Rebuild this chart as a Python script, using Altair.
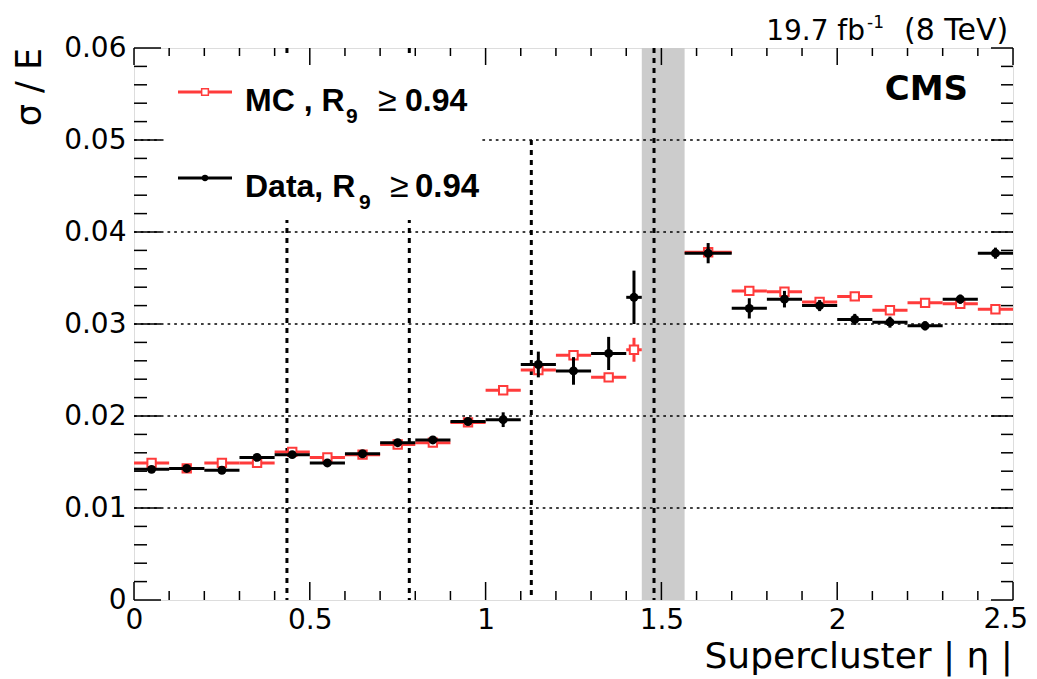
import altair as alt
import pandas as pd

# ---------------- data ----------------
bin_lo = [0.0, 0.1, 0.2, 0.3, 0.4, 0.5, 0.6, 0.7, 0.8, 0.9, 1.0, 1.1, 1.2, 1.3, 1.4,
          1.566, 1.7, 1.8, 1.9, 2.0, 2.1, 2.2, 2.3, 2.4]
bin_hi = [0.1, 0.2, 0.3, 0.4, 0.5, 0.6, 0.7, 0.8, 0.9, 1.0, 1.1, 1.2, 1.3, 1.4, 1.4442,
          1.7, 1.8, 1.9, 2.0, 2.1, 2.2, 2.3, 2.4, 2.5]
bin_center = [0.05, 0.15, 0.25, 0.35, 0.45, 0.55, 0.65, 0.75, 0.85, 0.95, 1.05, 1.15, 1.25, 1.35, 1.422,
              1.633, 1.75, 1.85, 1.95, 2.05, 2.15, 2.25, 2.35, 2.45]
data_val = [0.0142, 0.0143, 0.0141, 0.0155, 0.0158, 0.0149, 0.0159, 0.0171, 0.0174, 0.0194, 0.0196, 0.0256,
            0.0249, 0.0268, 0.0329, 0.0377, 0.0317, 0.0327, 0.0320, 0.0305, 0.0302, 0.0298, 0.0327, 0.0377]
data_err = [0.0002, 0.0002, 0.0002, 0.0002, 0.0002, 0.0002, 0.0002, 0.0002, 0.0003, 0.0004, 0.0008, 0.0014,
            0.0015, 0.0018, 0.0029, 0.0011, 0.0011, 0.0009, 0.0006, 0.0006, 0.0006, 0.0005, 0.0005, 0.0006]
mc_val = [0.0149, 0.0143, 0.0149, 0.0149, 0.0161, 0.0155, 0.0158, 0.0169, 0.0171, 0.0193, 0.0228, 0.0250,
          0.0266, 0.0242, 0.0272, 0.0378, 0.0336, 0.0335, 0.0324, 0.0330, 0.0315, 0.0323, 0.0322, 0.0316]
mc_err = [0.0001, 0.0001, 0.0001, 0.0001, 0.0001, 0.0001, 0.0001, 0.0001, 0.0001, 0.0001, 0.0001, 0.0002,
          0.0004, 0.0004, 0.0013, 0.0003, 0.0002, 0.0002, 0.0002, 0.0002, 0.0002, 0.0002, 0.0002, 0.0002]

gap_lo, gap_hi = [1.4442], [1.566]
module_x = [0.435, 0.783, 1.13, 1.479]
module_top = [0.06, 0.06, 0.05, 0.06]
grid_y = [0.01, 0.02, 0.03, 0.04, 0.05]
x_major = [0.0, 0.5, 1.0, 1.5, 2.0, 2.5]
x_label_vals = [0.0, 0.5, 1.0, 1.5, 2.0]
x_last_label = "2.5"
x_minor = [round(i * 0.1, 2) for i in range(26) if i % 5 != 0]
y_major = [0.0, 0.01, 0.02, 0.03, 0.04, 0.05, 0.06]
y_minor = [round(i * 0.002, 4) for i in range(31) if i % 5 != 0]

W, H = 879, 552
RED = "#ff3b3b"
FONT = "DejaVu Sans"
LFONT = "Liberation Sans"

df = pd.DataFrame({"lo": bin_lo, "hi": bin_hi, "c": bin_center,
                   "d": data_val, "de": data_err, "m": mc_val, "me": mc_err})
df["d_lo"] = df["d"] - df["de"]
df["d_hi"] = df["d"] + df["de"]
df["m_lo"] = df["m"] - df["me"]
df["m_hi"] = df["m"] + df["me"]

xs = alt.Scale(domain=[0, 2.5], nice=False, zero=False)
ys = alt.Scale(domain=[0, 0.06], nice=False, zero=False)

axis_common = dict(ticks=False, domain=False, grid=False, labelFont=FONT, labelFontSize=28,
                   labelColor="black", labelFlush=False, labelOverlap=False, title=None, format="~g")
x_axis = alt.Axis(values=x_label_vals, labelPadding=6, labelBaseline="top", **axis_common)
y_axis = alt.Axis(values=y_major, labelPadding=8, **axis_common)


def X(f):
    return alt.X(f, type="quantitative", scale=xs, axis=x_axis)


def Y(f):
    return alt.Y(f, type="quantitative", scale=ys, axis=y_axis)


one = pd.DataFrame({"a": [0]})

band = alt.Chart(pd.DataFrame({"lo": gap_lo, "hi": gap_hi})).mark_rect(color="#cccccc").encode(
    x=X("lo"), x2="hi:Q", y=alt.value(0), y2=alt.value(H))

grid = alt.Chart(pd.DataFrame({"y": grid_y})).mark_rule(color="black", strokeWidth=1.6, strokeDash=[2.7, 4]).encode(
    y=Y("y"), x=alt.value(0), x2=alt.value(W))

modules = alt.Chart(pd.DataFrame({"x": module_x, "top": module_top, "bot": [0] * 4})).mark_rule(
    color="black", strokeWidth=3, strokeDash=[5, 5]).encode(x=X("x"), y=Y("top"), y2="bot:Q")

legbox = alt.Chart(one).mark_rect(fill="white").encode(
    x=alt.value(31), x2=alt.value(346), y=alt.value(10), y2=alt.value(172))

base = alt.Chart(df)
mc_h = base.mark_rule(color=RED, strokeWidth=3).encode(x=X("lo"), x2="hi:Q", y=Y("m"))
mc_v = base.mark_rule(color=RED, strokeWidth=3).encode(x=X("c"), y=Y("m_lo"), y2="m_hi:Q")
mc_p = base.mark_point(shape="square", filled=False, fill="white", fillOpacity=1, color=RED,
                       strokeWidth=2, size=70, opacity=1).encode(x=X("c"), y=Y("m"))
d_h = base.mark_rule(color="black", strokeWidth=3).encode(x=X("lo"), x2="hi:Q", y=Y("d"))
d_v = base.mark_rule(color="black", strokeWidth=3).encode(x=X("c"), y=Y("d_lo"), y2="d_hi:Q")
d_p = base.mark_circle(color="black", size=80, opacity=1).encode(x=X("c"), y=Y("d"))


def xticks(vals, length_b, length_t):
    src = alt.Chart(pd.DataFrame({"v": vals}))
    b = src.mark_rule(color="black", strokeWidth=1.5).encode(
        x=X("v"), y=alt.value(H), y2=alt.value(H - length_b))
    t = src.mark_rule(color="black", strokeWidth=1.5).encode(
        x=X("v"), y=alt.value(0), y2=alt.value(length_t))
    return [b, t]


def yticks(vals, length_l, length_r):
    src = alt.Chart(pd.DataFrame({"v": vals}))
    l = src.mark_rule(color="black", strokeWidth=1.5).encode(
        y=Y("v"), x=alt.value(0), x2=alt.value(length_l))
    r = src.mark_rule(color="black", strokeWidth=1.5).encode(
        y=Y("v"), x=alt.value(W), x2=alt.value(W - length_r))
    return [l, r]


ticks = xticks(x_major, 18, 17) + xticks(x_minor, 9, 8) + yticks(y_major, 27, 22) + yticks(y_minor, 13, 12)


def txt(s, x, y, size, align="left", baseline="alphabetic", weight="normal", angle=0, font=FONT):
    kw = dict(text=s, fontSize=size, font=font, align=align, baseline=baseline,
              fontWeight=weight, color="black")
    if angle:
        kw["angle"] = angle
    return alt.Chart(one).mark_text(**kw).encode(x=alt.value(x), y=alt.value(y))


def hline(x1, x2, y, color):
    return alt.Chart(one).mark_rule(color=color, strokeWidth=3).encode(
        x=alt.value(x1), x2=alt.value(x2), y=alt.value(y))


legend = [
    hline(44, 98, 44, RED),
    alt.Chart(one).mark_point(shape="square", filled=False, fill="white", fillOpacity=1, color=RED,
                              strokeWidth=1.5, size=45, opacity=1).encode(x=alt.value(71), y=alt.value(44)),
    txt("MC , R", 111, 63, 32, weight="bold", font=LFONT),
    txt("9", 212, 75, 21, weight="bold", font=LFONT),
    txt("≥", 244, 63, 34, font=LFONT),
    txt("0.94", 271, 63, 32, weight="bold", font=LFONT),
    hline(44, 98, 130, "black"),
    alt.Chart(one).mark_circle(color="black", size=40, opacity=1).encode(x=alt.value(71), y=alt.value(130)),
    txt("Data, R", 111, 149, 32, weight="bold", font=LFONT),
    txt("9", 225, 161, 21, weight="bold", font=LFONT),
    txt("≥", 256, 149, 34, font=LFONT),
    txt("0.94", 281, 149, 33, weight="bold", font=LFONT),
]

annots = [
    txt(x_last_label, 894, H + 6, 28, align="right", baseline="top"),
    txt("CMS", 834, 52, 34, align="right", weight="bold"),
    txt("(8 TeV)", 770, -8, 30, align="left"),
    txt("-1", 733, -20, 17, align="left"),
    txt("19.7 fb", 731, -8, 28, align="right"),
    txt("Supercluster | η |", 879, 620, 36, align="right"),
    txt("σ / E", -104, 0, 35, align="right", baseline="middle", angle=270),
]

layers = [band, grid, modules, legbox, mc_h, mc_v, mc_p, d_h, d_v, d_p] + ticks + legend + annots

chart = alt.layer(*layers).properties(
    width=W, height=H,
    autosize=alt.AutoSizeParams(type="none"),
    padding={"left": 126, "top": 40, "right": 16, "bottom": 79},
).configure_view(stroke="black", strokeWidth=2).configure(background="white")

chart.save("out.html", embed_options={"renderer": "svg", "actions": False})
